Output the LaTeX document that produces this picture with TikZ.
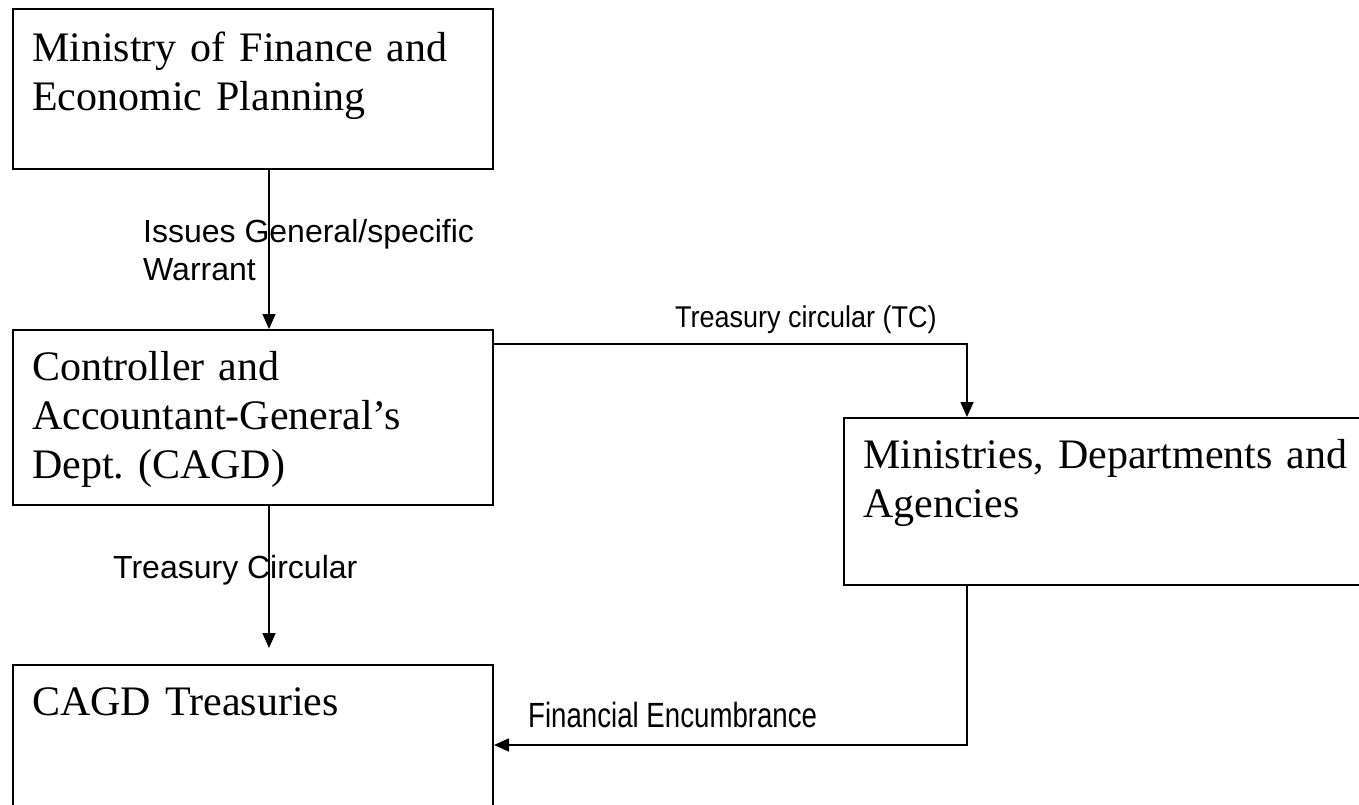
\documentclass[tikz,border=0pt]{standalone}
\usepackage{fontspec}
\setmainfont{Liberation Serif}
\setsansfont{Liberation Sans}
\usetikzlibrary{positioning,arrows.meta}
\frenchspacing

\begin{document}
\begin{tikzpicture}[x=1pt,y=-1pt,
  box/.style={draw, line width=2pt, anchor=north west, inner sep=0pt},
  boxtext/.style={anchor=base west, inner sep=0pt, text width=540pt, align=left,
    font=\fontsize{42}{49}\selectfont},
  flow/.style={line width=1.6pt, -{Triangle[length=15pt,width=13pt]}},
  tag/.style={anchor=base west, inner sep=0pt, align=left,
    font=\sffamily\fontsize{32}{38}\selectfont}]
\useasboundingbox (0,0) rectangle (1359,804);
%
\node[box, minimum width=480pt, minimum height=160pt] (mof) at (12,8) {};
\node[box, minimum width=480pt, minimum height=175pt] (cagd) at (12,329) {};
\node[box, minimum width=520pt, minimum height=167pt] (mda) at (843,417) {};
\node[box, minimum width=480pt, minimum height=150pt] (treas) at (12,664) {};
%
\node[boxtext] (mofText) at ([shift={(20pt,-53pt)}]mof.north west)
  {Ministry of Finance and\\Economic Planning};
\node[boxtext] (cagdText) at ([shift={(20pt,-51pt)}]cagd.north west)
  {Controller and\\Accountant-General's\\Dept. (CAGD)};
\node[boxtext] (mdaText) at ([shift={(20pt,-51pt)}]mda.north west)
  {Ministries, Departments and\\Agencies};
\node[boxtext] (treasText) at ([shift={(20pt,-51pt)}]treas.north west)
  {CAGD Treasuries};
%
\node[tag] (warrant) at (143,280) {Issues General/specific\\Warrant};
\node[tag] (circ) at (113,578) {Treasury Circular};
\node[tag, font=\sffamily\fontsize{30}{36}\selectfont] (tc) at (675,327)
  {\scalebox{0.9}[1]{Treasury circular (TC)}};
\node[tag, font=\sffamily\fontsize{35}{40}\selectfont] (enc) at (528,727)
  {\scalebox{0.79}[1]{Financial Encumbrance}};
%
\draw[flow] ([xshift=16pt]mof.south) -- ([xshift=16pt]cagd.north);
\draw[flow] ([xshift=16pt]cagd.south) -- ([xshift=16pt,yshift=16pt]treas.north);
\draw[flow] ([yshift=-15pt]cagd.north east) -| ([xshift=124pt]mda.north west);
\draw[flow] ([xshift=124pt]mda.south west) |- ([yshift=-81pt]treas.north east);
\end{tikzpicture}
\end{document}
